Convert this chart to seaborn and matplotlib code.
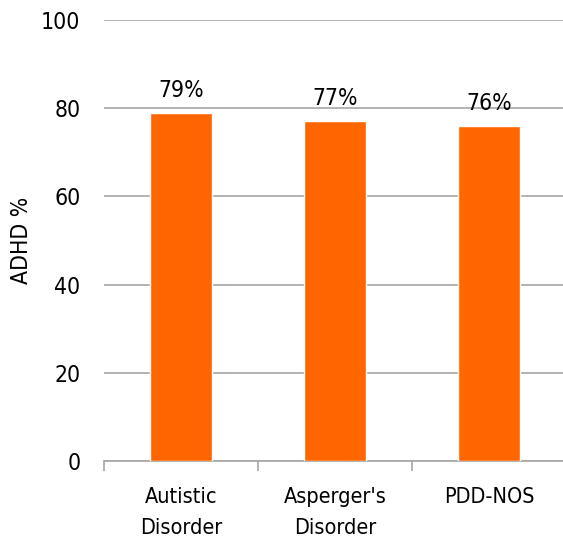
import matplotlib
matplotlib.use("Agg")
import matplotlib.pyplot as plt
import seaborn as sns
import pandas as pd
from matplotlib.ticker import FixedLocator, NullFormatter

categories = ["Autistic\nDisorder", "Asperger's\nDisorder", "PDD-NOS"]
adhd_pct = [79, 77, 76]
y_ticks = [0, 20, 40, 60, 80, 100]

sns.set_theme(style="white")
plt.rcParams["font.family"] = ["DejaVu Sans"]
plt.rcParams["font.stretch"] = "condensed"

df = pd.DataFrame({"category": categories, "pct": adhd_pct})

W, H = 563, 543
fig = plt.figure(figsize=(W / 100, H / 100), dpi=100)
ax = fig.add_axes([104 / W, 1 - 461 / H, (566 - 104) / W, (461 - 20) / H])

sns.barplot(data=df, x="category", y="pct", color="#FF6600", width=0.4,
            saturation=1, ax=ax, zorder=3)

ax.set_ylim(0, 100)
ax.set_xlim(-0.5, 2.5)
ax.set_yticks(y_ticks)
ax.yaxis.grid(True, color="#A6A6A6", linewidth=1.2, zorder=0)
ax.set_axisbelow(True)

for s in ["left", "right", "top"]:
    ax.spines[s].set_visible(False)
ax.spines["bottom"].set_color("#A6A6A6")
ax.spines["bottom"].set_linewidth(1.2)

ax.tick_params(axis="y", length=0, pad=17, labelsize=16.5, labelcolor="black")
ax.tick_params(axis="x", which="major", length=0, pad=19, labelsize=15.5, labelcolor="black")
ax.xaxis.set_minor_locator(FixedLocator([-0.5, 0.5, 1.5, 2.5]))
ax.xaxis.set_minor_formatter(NullFormatter())
ax.tick_params(axis="x", which="minor", bottom=True, length=7, width=1.2, color="#A6A6A6", direction="out")

for lbl in ax.get_xticklabels():
    lbl.set_linespacing(1.65)

ax.set_xlabel("")
ax.set_ylabel("ADHD %", fontsize=16.5, color="black", labelpad=6)

for i, v in enumerate(adhd_pct):
    ax.text(i, v + 2.5, f"{v}%", ha="center", va="bottom", fontsize=16.5, color="black")

fig.savefig("out.png", dpi=100)
